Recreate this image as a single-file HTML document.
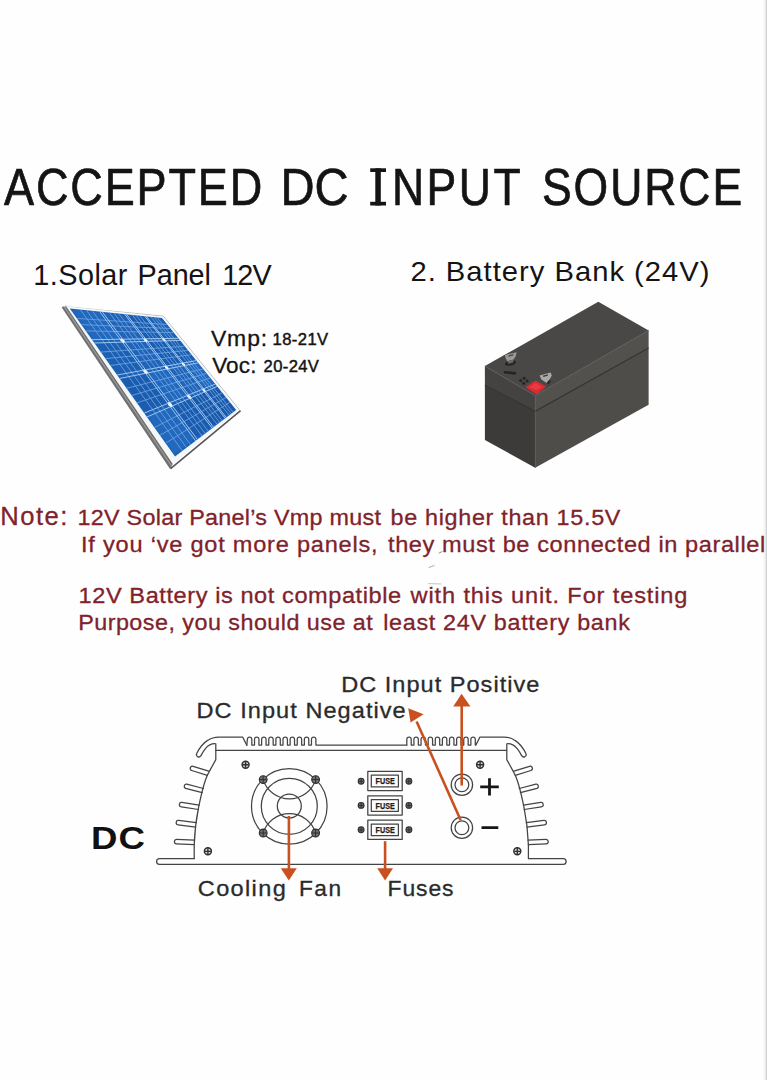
<!DOCTYPE html>
<html><head><meta charset="utf-8"><title>Accepted DC Input Source</title>
<style>
html,body{margin:0;padding:0;background:#fff;}
body{width:767px;height:1080px;overflow:hidden;font-family:"Liberation Sans",sans-serif;}
svg{display:block;}
svg text{font-family:"Liberation Sans",sans-serif;}
</style></head><body>
<svg width="767" height="1080" viewBox="0 0 767 1080">
<rect width="767" height="1080" fill="#fefefe"/>
<rect x="763.8" y="0" width="2" height="1080" fill="#f3f3f3"/>
<rect x="765.7" y="0" width="1.3" height="1080" fill="#d2d2d2"/>
<defs><filter id="soft" x="-5%" y="-5%" width="110%" height="110%"><feGaussianBlur stdDeviation="0.55"/></filter></defs>
<g id="panel" filter="url(#soft)">
<polygon points="61.6,307.2 66.2,305.6 173.0,463.6 170.2,469.2" fill="#6f6f6f"/>
<polyline points="64.2,306.6 171.6,466.0" fill="none" stroke="#9a9a9a" stroke-width="1.2"/>
<polyline points="170.6,468.6 240.6,410.6" fill="none" stroke="#555" stroke-width="1.6"/>
<polyline points="62.5,306.3 163.4,316.2 239.4,409.8" fill="none" stroke="#b9bcc0" stroke-width="1"/>
<polygon points="66.2,306.2 163.0,316.8 238.6,410.2 172.8,464.0" fill="#f4f6f8"/>
<polygon points="69.8,308.5 162.0,318.0 236.2,410.0 175.0,456.5" fill="#1f63b6"/>
<polygon points="72.6,310.2 100.7,312.9 120.2,339.3 93.6,339.7" fill="#2268bd"/>
<polygon points="95.9,343.0 122.4,342.2 143.3,370.3 118.6,374.7" fill="#1e61b4"/>
<polygon points="121.1,378.3 145.5,373.4 167.9,403.5 145.5,412.6" fill="#1b5cae"/>
<polygon points="148.2,416.4 170.3,406.8 194.3,439.1 174.7,453.5" fill="#2369be"/>
<polygon points="103.3,313.2 125.5,315.4 143.6,338.9 122.7,339.2" fill="#2064b8"/>
<polygon points="124.9,342.1 145.6,341.5 164.7,366.4 145.5,369.9" fill="#2064b8"/>
<polygon points="147.8,372.9 166.8,369.1 187.1,395.6 169.9,402.6" fill="#2268bd"/>
<polygon points="172.4,405.9 189.4,398.5 211.0,426.7 196.1,437.7" fill="#1b5cae"/>
<polygon points="127.6,315.6 145.6,317.3 162.3,338.6 145.6,338.8" fill="#1b5cae"/>
<polygon points="147.5,341.4 164.1,340.9 181.8,363.3 166.5,366.1" fill="#1b5cae"/>
<polygon points="168.6,368.8 183.7,365.7 202.4,389.4 188.8,394.9" fill="#2064b8"/>
<polygon points="191.0,397.8 204.4,392.0 224.2,417.0 212.4,425.7" fill="#1a59a8"/>
<polygon points="147.3,317.5 162.1,318.9 177.7,338.3 163.9,338.5" fill="#1e61b4"/>
<polygon points="165.7,340.8 179.4,340.4 195.8,360.8 183.3,363.0" fill="#1b5cae"/>
<polygon points="185.2,365.4 197.6,363.0 214.8,384.3 203.7,388.9" fill="#2268bd"/>
<polygon points="205.7,391.4 216.7,386.7 234.8,409.1 225.3,416.1" fill="#1a59a8"/>
<path d="M80.3,309.6L182.4,450.9 M76.9,318.4L167.3,324.5 M86.4,310.2L186.5,447.7 M81.3,324.6L170.5,328.5 M92.2,310.8L190.5,444.7 M85.7,330.9L173.8,332.6 M109.3,312.6L202.0,436.0 M100.8,352.1L184.7,346.2 M114.0,313.1L205.2,433.5 M105.5,358.7L188.1,350.4 M118.6,313.5L208.2,431.2 M110.3,365.5L191.6,354.7 M132.3,314.9L217.2,424.4 M126.5,388.3L203.1,368.9 M136.1,315.3L219.7,422.5 M131.7,395.5L206.6,373.4 M139.8,315.7L222.1,420.7 M136.9,402.9L210.3,377.9 M151.0,316.9L229.2,415.3 M154.4,427.5L222.3,392.8 M154.2,317.2L231.3,413.8 M160.0,435.3L226.1,397.5 M157.2,317.5L233.2,412.3 M165.6,443.3L229.9,402.2" stroke="#6ea6e6" stroke-width="0.9" fill="none" opacity="0.9"/>
<path d="M99.7,311.6L195.6,440.8 M92.0,339.7L178.4,338.3 M102.3,311.9L197.4,439.5 M94.3,343.0L180.1,340.4 M124.6,314.1L212.2,428.2 M117.1,375.0L196.4,360.6 M126.7,314.4L213.6,427.2 M119.6,378.5L198.2,362.8 M144.7,316.2L225.2,418.3 M144.2,413.1L215.3,384.1 M146.4,316.4L226.3,417.5 M146.9,417.0L217.2,386.4" stroke="#9cc6f2" stroke-width="1.0" fill="none"/>
<polygon points="120.4,340.7 120.7,338.2 124.7,340.6 124.4,343.2" fill="#eef5fd"/>
<polygon points="143.5,372.0 143.6,368.9 147.5,371.2 147.5,374.3" fill="#eef5fd"/>
<polygon points="168.3,405.4 168.0,401.8 171.9,403.9 172.3,407.6" fill="#eef5fd"/>
<polygon points="143.8,340.2 143.8,337.9 147.3,340.1 147.3,342.4" fill="#eef5fd"/>
<polygon points="165.1,367.9 164.8,365.2 168.2,367.3 168.5,370.0" fill="#eef5fd"/>
<polygon points="187.6,397.3 187.1,394.2 190.5,396.1 191.0,399.2" fill="#eef5fd"/>
<polygon points="162.6,339.7 162.4,337.7 165.4,339.7 165.6,341.7" fill="#eef5fd"/>
<polygon points="182.2,364.6 181.8,362.2 184.8,364.1 185.2,366.5" fill="#eef5fd"/>
<polygon points="202.9,390.9 202.3,388.2 205.2,389.9 205.8,392.6" fill="#eef5fd"/>
</g>
<g id="battery">
<polygon points="484.9,385.2 535.2,411.3 535.2,467.8 484.9,439.9" fill="#3d3b3a"/>
<polygon points="535.2,411.3 648.6,347.9 648.6,404.7 535.2,467.8" fill="#4f4d4a"/>
<polygon points="484.9,366.1 535.2,395.6 535.2,411.3 484.9,385.2" fill="#454341"/>
<polygon points="535.2,395.6 648.6,330.4 648.6,347.9 535.2,411.3" fill="#53514d"/>
<polygon points="598.3,301.7 648.6,330.4 535.2,395.6 484.9,366.1" fill="#4a4846"/>
<polyline points="484.9,385.2 535.2,411.3 648.6,347.9" fill="none" stroke="#333130" stroke-width="1.1"/>
<polyline points="484.9,366.1 535.2,395.6 648.6,330.4" fill="none" stroke="#5a5856" stroke-width="0.8"/>
<polyline points="535.2,395.6 535.2,467.8" fill="none" stroke="#565452" stroke-width="0.8"/>
<ellipse cx="510.5" cy="363" rx="5.6" ry="2.6" fill="#262524" transform="rotate(-12 510.5 363)"/>
<polygon points="505.0,355.0 516.6,352.2 515.8,356.0 513.6,359.6 507.4,361.2 505.6,358" fill="#9a9a98"/>
<polygon points="508.6,355.3 513.6,354.1 513.2,355.6 508.4,356.8" fill="#4a4846"/>
<polygon points="507.4,361.2 513.6,359.6 513.2,362.6 508.4,363.8" fill="#6a6967"/>
<path d="M505,372.2 L515,373.4" stroke="#252423" stroke-width="2.6" stroke-linecap="round" fill="none"/>
<g fill="#252423"><circle cx="520.6" cy="380.4" r="1.5"/><circle cx="524.2" cy="378.2" r="1.5"/><circle cx="527.2" cy="381.0" r="1.5"/><circle cx="523.6" cy="383.2" r="1.5"/></g>
<polygon points="525.4,387.2 535.4,380.6 546.2,386.6 536.4,394.2" fill="#dc2a33"/>
<polygon points="529.4,387.0 535.6,383.0 541.6,386.6 536.2,390.6" fill="#f0404a" opacity="0.7"/>
<polygon points="539.6,375.4 550.6,372.6 551.8,375.4 549.6,379.6 546.6,383.0 541.4,379.4" fill="#a9a9a7"/>
<polygon points="543.2,375.4 548.0,374.2 547.8,375.8 543.2,377.0" fill="#3f3d3c"/>
<polygon points="546.6,383.0 549.6,379.6 551.0,381.6 548.6,384.6" fill="#2d2c2b"/>
</g>
<g id="inverter" fill="none" stroke="#444444" stroke-width="1.25" stroke-linecap="round" stroke-linejoin="round">
<path d="M194.3,858.6 H159.6 Q156.6,858.6 156.6,861.5 Q156.6,864.4 159.6,864.4 H563.2 Q566.1,864.4 566.1,861.5 Q566.1,858.6 563.2,858.6 H528.6"/>
<path d="M528.4,858.6 L528.4,845 C528.0,833 526.8,821 524.1,807.8 S518.6,780.4 513.9,772.6 L506.8,759.6 L506.8,743.8 C510.5,743.4 514.5,745.5 517.2,748.6 C519.3,751.2 520.6,753.6 521.5,755.4 Q523.0,757.8 525.0,756.6 Q526.8,755.4 525.9,753.6 C523.5,748.5 520.0,743.6 515.0,740.4 C511.5,738.0 508.0,737.0 504.0,737.0 L480.0,737.0 L475.8,745.1"/><path d="M515.3,775.4 L530.9,770.5 A2.2,2.2 0 0 0 529.5,766.3 L513.9,771.2"/><path d="M520.4,792.7 L537.0,788.3 A2.2,2.2 0 0 0 535.8,784.1 L519.2,788.5"/><path d="M524.1,809.5 L541.3,806.8 A2.2,2.2 0 0 0 540.7,802.4 L523.5,805.1"/><path d="M526.9,827.1 L544.5,824.8 A2.2,2.2 0 0 0 543.9,820.4 L526.3,822.7"/><path d="M528.3,844.6 L546.1,843.8 A2.2,2.2 0 0 0 545.9,839.4 L528.1,840.2"/>
<g transform="translate(722.6,0) scale(-1,1)"><path d="M528.4,858.6 L528.4,845 C528.0,833 526.8,821 524.1,807.8 S518.6,780.4 513.9,772.6 L506.8,759.6 L506.8,743.8 C510.5,743.4 514.5,745.5 517.2,748.6 C519.3,751.2 520.6,753.6 521.5,755.4 Q523.0,757.8 525.0,756.6 Q526.8,755.4 525.9,753.6 C523.5,748.5 520.0,743.6 515.0,740.4 C511.5,738.0 508.0,737.0 504.0,737.0 L480.0,737.0 L475.8,745.1"/><path d="M515.3,775.4 L530.9,770.5 A2.2,2.2 0 0 0 529.5,766.3 L513.9,771.2"/><path d="M520.4,792.7 L537.0,788.3 A2.2,2.2 0 0 0 535.8,784.1 L519.2,788.5"/><path d="M524.1,809.5 L541.3,806.8 A2.2,2.2 0 0 0 540.7,802.4 L523.5,805.1"/><path d="M526.9,827.1 L544.5,824.8 A2.2,2.2 0 0 0 543.9,820.4 L526.3,822.7"/><path d="M528.3,844.6 L546.1,843.8 A2.2,2.2 0 0 0 545.9,839.4 L528.1,840.2"/></g>
<path d="M215.9,750.4 H506.6"/>
<path d="M246.8,745.1 L247.40,739.21 A2.21,2.21 0 0 1 251.81,739.21 L251.81,745.1 L254.52,745.1 L254.52,739.21 A2.21,2.21 0 0 1 258.93,739.21 L258.93,745.1 L261.64,745.1 L261.64,739.21 A2.21,2.21 0 0 1 266.05,739.21 L266.05,745.1 L268.76,745.1 L268.76,739.21 A2.21,2.21 0 0 1 273.17,739.21 L273.17,745.1 L275.88,745.1 L275.88,739.21 A2.21,2.21 0 0 1 280.29,739.21 L280.29,745.1 L283.00,745.1 L283.00,739.21 A2.21,2.21 0 0 1 287.41,739.21 L287.41,745.1 L290.12,745.1 L290.12,739.21 A2.21,2.21 0 0 1 294.53,739.21 L294.53,745.1 L297.24,745.1 L297.24,739.21 A2.21,2.21 0 0 1 301.65,739.21 L301.65,745.1 L304.36,745.1 L304.36,739.21 A2.21,2.21 0 0 1 308.77,739.21 L308.77,745.1 L311.48,745.1 L311.48,739.21 A2.21,2.21 0 0 1 315.89,739.21 L315.89,745.1 L406.8,745.1"/>
<path d="M406.80,745.1 L406.80,739.21 A2.21,2.21 0 0 1 411.21,739.21 L411.21,745.1 L413.92,745.1 L413.92,739.21 A2.21,2.21 0 0 1 418.33,739.21 L418.33,745.1 L421.04,745.1 L421.04,739.21 A2.21,2.21 0 0 1 425.45,739.21 L425.45,745.1 L428.16,745.1 L428.16,739.21 A2.21,2.21 0 0 1 432.57,739.21 L432.57,745.1 L435.28,745.1 L435.28,739.21 A2.21,2.21 0 0 1 439.69,739.21 L439.69,745.1 L442.40,745.1 L442.40,739.21 A2.21,2.21 0 0 1 446.81,739.21 L446.81,745.1 L449.52,745.1 L449.52,739.21 A2.21,2.21 0 0 1 453.93,739.21 L453.93,745.1 L456.64,745.1 L456.64,739.21 A2.21,2.21 0 0 1 461.05,739.21 L461.05,745.1 L463.76,745.1 L463.76,739.21 A2.21,2.21 0 0 1 468.17,739.21 L468.17,745.1 L470.88,745.1 L470.88,739.21 A2.21,2.21 0 0 1 475.29,739.21 L475.29,745.1"/>
<circle cx="289.3" cy="806.3" r="37.8"/><circle cx="289.3" cy="806.3" r="28"/><circle cx="289.3" cy="806.0" r="12"/>
<path d="M263.2,779.6 A27.4,27.4 0 0 0 315.6,779.6 M263.2,833 A27.4,27.4 0 0 1 315.6,833"/>
<rect x="367.8" y="771.4" width="34.4" height="19.2"/><rect x="371.3" y="775.2" width="27.1" height="11.7"/>
<rect x="367.8" y="795.8" width="34.4" height="19.2"/><rect x="371.3" y="799.6" width="27.1" height="11.7"/>
<rect x="367.8" y="820.2" width="34.4" height="19.2"/><rect x="371.3" y="824.0" width="27.1" height="11.7"/>
<circle cx="461.9" cy="784.7" r="10.7"/><circle cx="461.9" cy="784.7" r="6.9"/>
<circle cx="461.9" cy="827.7" r="10.7"/><circle cx="461.9" cy="827.7" r="6.9"/>
</g>
<text x="375.6" y="784.2" font-size="8.3" font-weight="bold" fill="#1c1c1c" stroke="#1c1c1c" stroke-width="0.25" textLength="19.2" lengthAdjust="spacingAndGlyphs">FUSE</text>
<text x="375.6" y="808.6" font-size="8.3" font-weight="bold" fill="#1c1c1c" stroke="#1c1c1c" stroke-width="0.25" textLength="19.2" lengthAdjust="spacingAndGlyphs">FUSE</text>
<text x="375.6" y="833.0" font-size="8.3" font-weight="bold" fill="#1c1c1c" stroke="#1c1c1c" stroke-width="0.25" textLength="19.2" lengthAdjust="spacingAndGlyphs">FUSE</text>
<g stroke="#2e2e2e" stroke-width="1.45" fill="#dcdcdc"><circle cx="245.6" cy="764.7" r="3.5"/><path d="M242.6,764.7 H248.6 M245.6,761.7 V767.7" stroke-width="1.35"/></g>
<g stroke="#2e2e2e" stroke-width="1.45" fill="#dcdcdc"><circle cx="480.1" cy="764.7" r="3.5"/><path d="M477.1,764.7 H483.1 M480.1,761.7 V767.7" stroke-width="1.35"/></g>
<g stroke="#2e2e2e" stroke-width="1.45" fill="#dcdcdc"><circle cx="207.9" cy="851.3" r="3.5"/><path d="M204.9,851.3 H210.9 M207.9,848.3 V854.3" stroke-width="1.35"/></g>
<g stroke="#2e2e2e" stroke-width="1.45" fill="#dcdcdc"><circle cx="517.3" cy="851.3" r="3.5"/><path d="M514.3,851.3 H520.3 M517.3,848.3 V854.3" stroke-width="1.35"/></g>
<g stroke="#2e2e2e" stroke-width="1.1" fill="#707070"><circle cx="263.2" cy="779.6" r="3.9"/><path d="M259.8,779.6 H266.6 M263.2,776.2 V783.0" stroke-width="1.00"/></g>
<g stroke="#2e2e2e" stroke-width="1.1" fill="#707070"><circle cx="315.6" cy="779.6" r="3.9"/><path d="M312.2,779.6 H319.0 M315.6,776.2 V783.0" stroke-width="1.00"/></g>
<g stroke="#2e2e2e" stroke-width="1.1" fill="#707070"><circle cx="263.2" cy="833.0" r="3.9"/><path d="M259.8,833.0 H266.6 M263.2,829.6 V836.4" stroke-width="1.00"/></g>
<g stroke="#2e2e2e" stroke-width="1.1" fill="#707070"><circle cx="315.6" cy="833.0" r="3.9"/><path d="M312.2,833.0 H319.0 M315.6,829.6 V836.4" stroke-width="1.00"/></g>
<g stroke="#2e2e2e" stroke-width="1.1" fill="#707070"><circle cx="361.1" cy="781.2" r="2.9"/><path d="M358.7,781.2 H363.5 M361.1,778.8 V783.6" stroke-width="1.00"/></g>
<g stroke="#2e2e2e" stroke-width="1.1" fill="#707070"><circle cx="408.9" cy="781.2" r="2.9"/><path d="M406.5,781.2 H411.3 M408.9,778.8 V783.6" stroke-width="1.00"/></g>
<g stroke="#2e2e2e" stroke-width="1.1" fill="#707070"><circle cx="361.1" cy="805.4" r="2.9"/><path d="M358.7,805.4 H363.5 M361.1,803.0 V807.8" stroke-width="1.00"/></g>
<g stroke="#2e2e2e" stroke-width="1.1" fill="#707070"><circle cx="408.9" cy="805.4" r="2.9"/><path d="M406.5,805.4 H411.3 M408.9,803.0 V807.8" stroke-width="1.00"/></g>
<g stroke="#2e2e2e" stroke-width="1.1" fill="#707070"><circle cx="361.1" cy="829.8" r="2.9"/><path d="M358.7,829.8 H363.5 M361.1,827.4 V832.2" stroke-width="1.00"/></g>
<g stroke="#2e2e2e" stroke-width="1.1" fill="#707070"><circle cx="408.9" cy="829.8" r="2.9"/><path d="M406.5,829.8 H411.3 M408.9,827.4 V832.2" stroke-width="1.00"/></g>
<path d="M480.2,786.8 H498.8 M489.5,778.2 V795.4 M481.5,827.7 H498.3" stroke="#161616" stroke-width="2.8" fill="none"/>
<g stroke="#c9511f" stroke-width="2.6" fill="none"><path d="M288.9,816 V869"/><path d="M385.1,841.2 V869"/><path d="M461.7,785.5 V705"/><path d="M460.6,820 L416.6,721.5"/></g>
<g fill="#c9511f"><polygon points="280.8,868.2 296.8,868.2 288.8,880.6"/><polygon points="377.2,868.2 393.0,868.2 385.1,880.6"/><polygon points="461.6,693.8 470.4,706.6 453.2,706.6"/><polygon points="408.2,708.2 423.6,714.2 410.6,722.6"/></g>
<text transform="translate(4.00,205.4) scale(0.86,1)" font-size="52.4" fill="#141414" font-weight="normal" textLength="300.35" lengthAdjust="spacing" stroke="#141414" stroke-width="0.7" stroke-linejoin="round">ACCEPTED</text>
<text transform="translate(280.60,205.4) scale(0.9,1)" font-size="52.4" fill="#141414" font-weight="normal" textLength="75.63" lengthAdjust="spacing" stroke="#141414" stroke-width="0.7" stroke-linejoin="round">DC</text>
<text transform="translate(392.00,205.4) scale(0.85,1)" font-size="52.4" fill="#141414" font-weight="normal" textLength="151.29" lengthAdjust="spacing" stroke="#141414" stroke-width="0.7" stroke-linejoin="round">NPUT</text>
<text transform="translate(542.00,205.4) scale(0.85,1)" font-size="52.4" fill="#141414" font-weight="normal" textLength="235.41" lengthAdjust="spacing" stroke="#141414" stroke-width="0.7" stroke-linejoin="round">SOURCE</text>
<text transform="translate(33.20,285) scale(1.0,1)" font-size="28.8" fill="#141414" font-weight="normal" textLength="94.20" lengthAdjust="spacing" >1.Solar</text>
<text transform="translate(137.60,285) scale(1.0,1)" font-size="28.8" fill="#141414" font-weight="normal" textLength="73.36" lengthAdjust="spacing" >Panel</text>
<text transform="translate(222.30,285) scale(1.0,1)" font-size="28.8" fill="#141414" font-weight="normal" textLength="49.30" lengthAdjust="spacing" >12V</text>
<text transform="translate(410.40,280.6) scale(1.05,1)" font-size="27.8" fill="#141414" font-weight="normal" textLength="284.84" lengthAdjust="spacing" >2. Battery Bank (24V)</text>
<text transform="translate(210.90,345.9) scale(1.02,1)" font-size="22.5" fill="#141414" font-weight="normal" textLength="55.25" lengthAdjust="spacing" stroke="#141414" stroke-width="0.3">Vmp:</text>
<text transform="translate(272.60,345.3) scale(1.03,1)" font-size="16.1" fill="#141414" font-weight="normal" textLength="53.90" lengthAdjust="spacing" stroke="#141414" stroke-width="0.45">18-21V</text>
<text transform="translate(212.20,372.7) scale(1.0,1)" font-size="22.5" fill="#141414" font-weight="normal" textLength="44.23" lengthAdjust="spacing" stroke="#141414" stroke-width="0.3">Voc:</text>
<text transform="translate(263.60,372.1) scale(1.03,1)" font-size="16.1" fill="#141414" font-weight="normal" textLength="53.69" lengthAdjust="spacing" stroke="#141414" stroke-width="0.45">20-24V</text>
<text transform="translate(0.20,525) scale(1.0,1)" font-size="25.6" fill="#80222a" font-weight="normal" textLength="67.16" lengthAdjust="spacing" stroke="#80222a" stroke-width="0.3">Note:</text>
<text transform="translate(77.50,525) scale(1.02,1)" font-size="22.9" fill="#80222a" font-weight="normal" textLength="297.55" lengthAdjust="spacing" stroke="#80222a" stroke-width="0.3">12V Solar Panel’s Vmp must</text>
<text transform="translate(390.50,525) scale(1.02,1)" font-size="22.9" fill="#80222a" font-weight="normal" textLength="225.39" lengthAdjust="spacing" stroke="#80222a" stroke-width="0.3">be higher than 15.5V</text>
<text transform="translate(81.00,551.8) scale(1.03,1)" font-size="22.9" fill="#80222a" font-weight="normal" textLength="287.96" lengthAdjust="spacing" stroke="#80222a" stroke-width="0.3">If you ‘ve got more panels,</text>
<text transform="translate(388.00,551.8) scale(1.03,1)" font-size="22.9" fill="#80222a" font-weight="normal" textLength="366.24" lengthAdjust="spacing" stroke="#80222a" stroke-width="0.3">they must be connected in parallel</text>
<text transform="translate(78.60,602.7) scale(1.03,1)" font-size="22.9" fill="#80222a" font-weight="normal" textLength="313.17" lengthAdjust="spacing" stroke="#80222a" stroke-width="0.3">12V Battery is not compatible</text>
<text transform="translate(410.60,602.7) scale(1.03,1)" font-size="22.9" fill="#80222a" font-weight="normal" textLength="268.78" lengthAdjust="spacing" stroke="#80222a" stroke-width="0.3">with this unit. For testing</text>
<text transform="translate(78.20,629.6) scale(1.02,1)" font-size="22.9" fill="#80222a" font-weight="normal" textLength="288.81" lengthAdjust="spacing" stroke="#80222a" stroke-width="0.3">Purpose, you should use at</text>
<text transform="translate(383.20,629.6) scale(1.02,1)" font-size="22.9" fill="#80222a" font-weight="normal" textLength="241.82" lengthAdjust="spacing" stroke="#80222a" stroke-width="0.3">least 24V battery bank</text>
<text transform="translate(341.20,692.2) scale(1.08,1)" font-size="21.8" fill="#2b2b2b" font-weight="normal" textLength="183.50" lengthAdjust="spacing" stroke="#2b2b2b" stroke-width="0.3">DC Input Positive</text>
<text transform="translate(196.50,718) scale(1.08,1)" font-size="21.8" fill="#2b2b2b" font-weight="normal" textLength="193.70" lengthAdjust="spacing" stroke="#2b2b2b" stroke-width="0.3">DC Input Negative</text>
<text transform="translate(91.00,849.1) scale(1.17,1)" font-size="31.3" fill="#111" font-weight="bold" textLength="46.02" lengthAdjust="spacing" >DC</text>
<text transform="translate(197.80,896) scale(1.08,1)" font-size="21.8" fill="#2b2b2b" font-weight="normal" textLength="81.43" lengthAdjust="spacing" stroke="#2b2b2b" stroke-width="0.3">Cooling</text>
<text transform="translate(299.00,896) scale(1.04,1)" font-size="21.8" fill="#2b2b2b" font-weight="normal" textLength="40.41" lengthAdjust="spacing" stroke="#2b2b2b" stroke-width="0.3">Fan</text>
<text transform="translate(387.60,896) scale(1.05,1)" font-size="21.8" fill="#2b2b2b" font-weight="normal" textLength="62.80" lengthAdjust="spacing" stroke="#2b2b2b" stroke-width="0.3">Fuses</text>
<g fill="#141414"><rect x="370.2" y="168.3" width="15.8" height="3.7"/><rect x="370.2" y="201.8" width="15.8" height="3.7"/><rect x="375.3" y="168.3" width="5.5" height="37.2"/></g>
<g fill="none" stroke-linecap="round"><path d="M439.2,553 L442,551.6" stroke="#8f8f8f" stroke-width="1"/><path d="M429,567.6 L434,565.4" stroke="#b8b8b8" stroke-width="1.1"/><path d="M428.6,583.6 L441,584" stroke="#b4b4b4" stroke-width="0.8"/></g>
</svg>
</body></html>
